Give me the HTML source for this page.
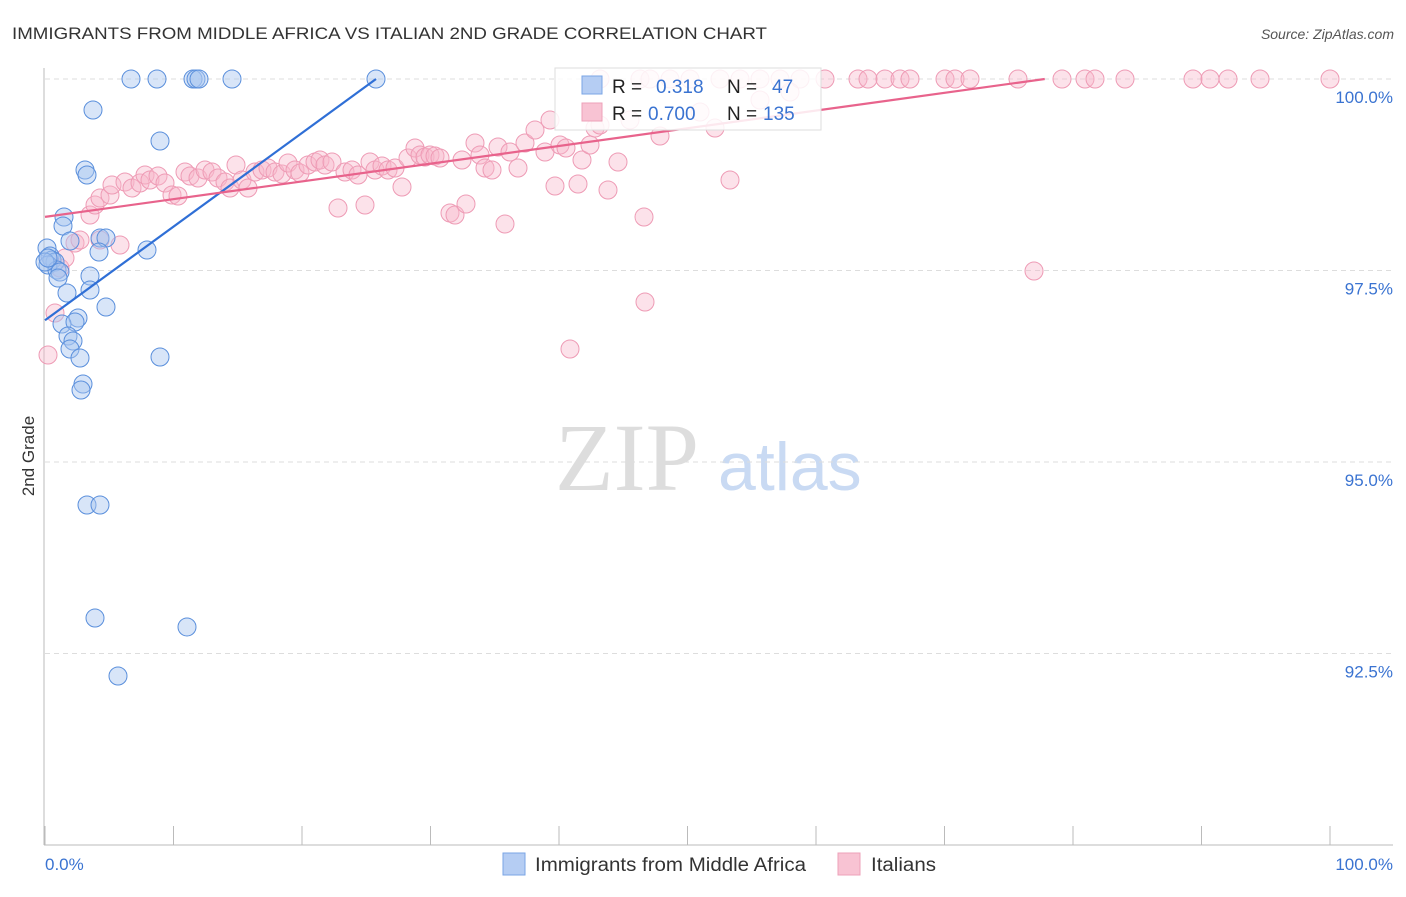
<!DOCTYPE html>
<html><head><meta charset="utf-8"><style>
body{margin:0;background:#fff;font-family:"Liberation Sans",sans-serif}
</style></head><body>
<svg width="1406" height="892" xmlns="http://www.w3.org/2000/svg" id="chart" style="font-family:'Liberation Sans',sans-serif">
<text x="12" y="39" font-size="17" fill="#333" textLength="755" lengthAdjust="spacingAndGlyphs">IMMIGRANTS FROM MIDDLE AFRICA VS ITALIAN 2ND GRADE CORRELATION CHART</text>
<text x="1394" y="39" font-size="14" fill="#555" font-style="italic" text-anchor="end">Source: ZipAtlas.com</text>
<text x="555" y="490" font-size="96" fill="#ddd" font-family="'Liberation Serif',serif">ZIP</text>
<text x="718" y="490" font-size="68" fill="#c9daf3">atlas</text>
<text transform="translate(34,456) rotate(-90)" font-size="17" fill="#333" text-anchor="middle">2nd Grade</text>
<g id="grid"></g><g id="axes"></g><g id="pts"></g><g id="trend"></g>
<g>
<rect x="555" y="68" width="266" height="62" fill="#fff" fill-opacity="0.85" stroke="#ddd"/>
<rect x="582" y="76" width="20" height="18" fill="#b5cdf3" stroke="#7aa5e6"/>
<text x="612" y="93" font-size="19" fill="#222">R = </text><text x="656" y="93" font-size="19" fill="#3a73d1">0.318</text>
<text x="727" y="93" font-size="19" fill="#222">N = </text><text x="772" y="93" font-size="19" fill="#3a73d1">47</text>
<rect x="582" y="103" width="20" height="18" fill="#f8c3d3" stroke="#eea0b8"/>
<text x="612" y="120" font-size="19" fill="#222">R = </text><text x="648" y="120" font-size="19" fill="#3a73d1">0.700</text>
<text x="727" y="120" font-size="19" fill="#222">N = </text><text x="763" y="120" font-size="19" fill="#3a73d1">135</text>
</g>
<rect x="503" y="853" width="22" height="22" fill="#b5cdf3" stroke="#7aa5e6"/>
<text x="535" y="871" font-size="19" fill="#333" textLength="271" lengthAdjust="spacingAndGlyphs">Immigrants from Middle Africa</text>
<rect x="838" y="853" width="22" height="22" fill="#f8c3d3" stroke="#eea0b8"/>
<text x="871" y="871" font-size="19" fill="#333" textLength="65" lengthAdjust="spacingAndGlyphs">Italians</text>
</svg>
<script>
const yTicks=[100,97.5,95,92.5];
const yTickLabels=["100.0%","97.5%","95.0%","92.5%"];
const blueXpx=[131,157,193,196,199,232,376,93,160,85,87,64,63,100,106,147,99,70,47,50,52,55,48,57,60,58,90,90,67,106,78,62,75,68,73,70,80,160,83,81,87,100,95,187,118,45,48];
const blueYpx=[79,79,79,79,79,79,79,110,141,170,175,217,226,238,238,250,252,241,248,256,260,262,265,270,272,278,276,290,293,307,318,324,322,336,341,349,358,357,384,390,505,505,618,627,676,262,258];
const pinkXpx=[600,640,650,670,690,720,740,760,780,800,825,858,868,885,900,910,945,955,970,1018,1062,1085,1095,1125,1193,1210,1228,1260,1330,48,55,60,65,75,80,100,120,90,95,100,110,112,125,132,140,145,150,158,165,172,178,185,190,198,205,212,218,225,230,236,242,248,255,262,268,275,282,288,295,300,308,315,320,325,332,338,345,352,358,365,370,375,382,388,395,402,408,415,420,425,430,435,440,450,455,462,466,475,480,485,492,498,505,510,518,525,535,545,550,555,560,566,570,578,582,590,595,600,608,618,630,644,645,660,700,715,730,760,790,1034];
const pinkYpx=[79,79,79,79,79,79,79,79,79,79,79,79,79,79,79,79,79,79,79,79,79,79,79,79,79,79,79,79,79,355,313,268,258,243,240,240,245,215,205,198,195,185,182,188,183,175,180,176,183,195,196,172,176,178,170,172,178,182,188,165,180,188,172,170,168,172,174,163,170,173,165,162,160,165,162,208,172,170,175,205,162,170,166,170,168,187,158,148,155,157,155,156,158,213,215,160,204,143,155,168,170,147,224,152,168,143,130,152,120,186,145,148,349,184,160,145,128,125,190,162,120,217,302,136,112,128,180,100,92,271];
const toX=p=>(p-45)/12.85, toY=p=>100-(p-79)/76.6;
const blueX=blueXpx.map(toX), blueY=blueYpx.map(toY), pinkX=pinkXpx.map(toX), pinkY=pinkYpx.map(toY);
const blueTrendX=[0,25.76], blueTrendY=[96.85,100];
const pinkTrendX=[0,77.8], pinkTrendY=[98.2,100];
const sx=v=>45+v*12.85, sy=v=>79+(100-v)*76.6;
const NS="http://www.w3.org/2000/svg";
function mk(t,a,parent){const e=document.createElementNS(NS,t);for(const k in a)e.setAttribute(k,a[k]);document.getElementById(parent).appendChild(e);return e;}
yTicks.forEach((t,i)=>{
 const l=mk('line',{x1:45,x2:1393,y1:sy(t),y2:sy(t),stroke:'#ddd','stroke-dasharray':'5,4'},'grid');
 
 
 const tx=mk('text',{x:1393,y:sy(t)+24,'font-size':17,fill:'#3a73d1','text-anchor':'end'},'grid');tx.textContent=yTickLabels[i];
 
 
});
const ax=mk('line',{x1:44,x2:44,y1:68,y2:845,stroke:'#bbb'},'axes');


const bx=mk('line',{x1:44,x2:1393,y1:845,y2:845,stroke:'#bbb'},'axes');


for(let i=0;i<=10;i++){const t=mk('line',{x1:sx(i*10),x2:sx(i*10),y1:826,y2:845,stroke:'#bbb'},'axes');
 
 }
let x0=mk('text',{x:45,y:870,'font-size':17,fill:'#3a73d1'},'axes');x0.textContent='0.0%';


let x1=mk('text',{x:1393,y:870,'font-size':17,fill:'#3a73d1','text-anchor':'end'},'axes');x1.textContent='100.0%';


pinkX.forEach((v,i)=>{const c=mk('circle',{cx:sx(v),cy:sy(pinkY[i]),r:9,fill:'#f7b6ca','fill-opacity':0.4,stroke:'#ee9bb5','stroke-width':1},'pts');
 
 });
blueX.forEach((v,i)=>{const c=mk('circle',{cx:sx(v),cy:sy(blueY[i]),r:9,fill:'#a9c6f0','fill-opacity':0.45,stroke:'#5a8fdc','stroke-width':1},'pts');
 
 });
const bt=mk('line',{x1:sx(blueTrendX[0]),y1:sy(blueTrendY[0]),x2:sx(blueTrendX[1]),y2:sy(blueTrendY[1]),stroke:'#2f6fd6','stroke-width':2.2},'trend');


const pt=mk('line',{x1:sx(pinkTrendX[0]),y1:sy(pinkTrendY[0]),x2:sx(pinkTrendX[1]),y2:sy(pinkTrendY[1]),stroke:'#e8638c','stroke-width':2.2},'trend');


</script>
</body></html>
